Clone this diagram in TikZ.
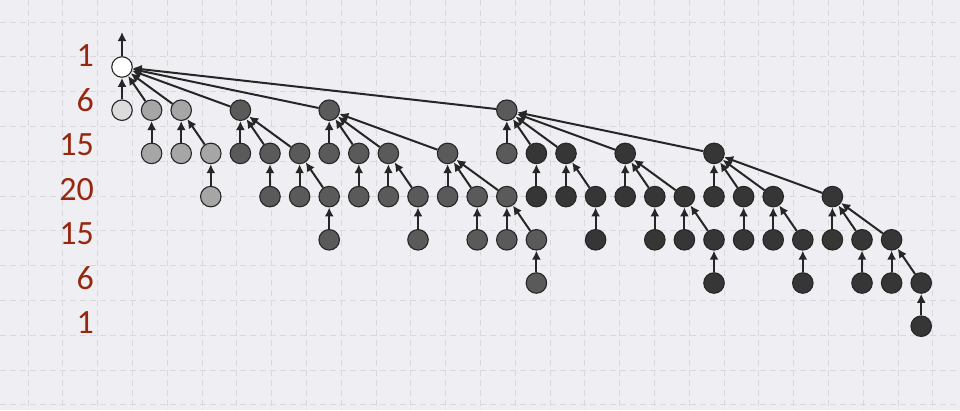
\documentclass[tikz,border=0pt]{standalone}
\usepackage{fontspec}
\setmainfont{Carlito}
\usetikzlibrary{arrows.meta}
\definecolor{bg}{HTML}{EFEFF3}
\definecolor{gridc}{HTML}{D8D8DD}
\definecolor{lab}{HTML}{962810}
\definecolor{cw}{HTML}{FFFFFF}
\definecolor{ca}{HTML}{DCDCDC}
\definecolor{cb}{HTML}{A6A6A6}
\definecolor{cc}{HTML}{5A5A5A}
\definecolor{cd}{HTML}{363636}
\definecolor{edgec}{HTML}{262626}
\begin{document}
\begin{tikzpicture}[x=1pt,y=-1pt,
  vtx/.style={circle,draw=edgec,line width=1.1pt,minimum size=20.5pt,inner sep=0pt},
  lnk/.style={draw=edgec,line width=2pt,-{Latex[length=9pt,width=9pt]}},
  lbl/.style={text=lab,font=\fontsize{34}{34}\selectfont,anchor=east,inner sep=0pt},
  gridline/.style={draw=gridc,line width=1pt,dash pattern=on 6pt off 4pt}]
\fill[bg] (0,0) rectangle (960,410);
\useasboundingbox (0,0) rectangle (960,410);
\foreach \k in {0,...,26} \draw[gridline] ({28+34.8*\k},0) -- ({28+34.8*\k},410);
\foreach \k in {0,...,11} \draw[gridline] (0,{22+34.8*\k}) -- (960,{22+34.8*\k});
% labels
\foreach \t [count=\i from 0] in {1,6,15,20,15,6,1}
  \node[lbl,draw=lab,draw opacity=0,line width=0.4pt] (lab\i) at (94,{56+44.4*\i}) {\t};
% vertices
\foreach \r/\c/\f in {
  0/0/cw, 1/0/ca,
  1/1/cb, 2/1/cb, 1/2/cb, 2/2/cb, 2/3/cb, 3/3/cb,
  1/4/cc, 2/4/cc, 2/5/cc, 3/5/cc, 2/6/cc, 3/6/cc, 3/7/cc, 4/7/cc,
  1/7/cc, 2/7/cc, 2/8/cc, 3/8/cc, 2/9/cc, 3/9/cc, 3/10/cc, 4/10/cc,
  2/11/cc, 3/11/cc, 3/12/cc, 4/12/cc, 3/13/cc, 4/13/cc, 4/14/cc, 5/14/cc,
  1/13/cc, 2/13/cc,
  2/14/cd, 3/14/cd, 2/15/cd, 3/15/cd, 3/16/cd, 4/16/cd,
  2/17/cd, 3/17/cd, 3/18/cd, 4/18/cd, 3/19/cd, 4/19/cd, 4/20/cd, 5/20/cd,
  2/20/cd, 3/20/cd, 3/21/cd, 4/21/cd, 3/22/cd, 4/22/cd, 4/23/cd, 5/23/cd,
  3/24/cd, 4/24/cd, 4/25/cd, 5/25/cd, 4/26/cd, 5/26/cd, 5/27/cd, 6/27/cd}
  \node[vtx,fill=\f] (n\r-\c) at ({122+29.6*\c},{67+43.2*\r}) {};
\coordinate (top) at (122,32);
\draw[lnk] (n0-0) -- (top);
% edges child -> parent
\foreach \a/\b in {
  1-0/0-0, 1-1/0-0, 1-2/0-0, 1-4/0-0, 1-7/0-0, 1-13/0-0,
  2-1/1-1,
  2-2/1-2, 2-3/1-2, 3-3/2-3,
  2-4/1-4, 2-5/1-4, 2-6/1-4, 3-5/2-5, 3-6/2-6, 3-7/2-6, 4-7/3-7,
  2-7/1-7, 2-8/1-7, 2-9/1-7, 2-11/1-7, 3-8/2-8, 3-9/2-9, 3-10/2-9, 4-10/3-10,
  3-11/2-11, 3-12/2-11, 3-13/2-11, 4-12/3-12, 4-13/3-13, 4-14/3-13, 5-14/4-14,
  2-13/1-13, 2-14/1-13, 2-15/1-13, 2-17/1-13, 2-20/1-13,
  3-14/2-14, 3-15/2-15, 3-16/2-15, 4-16/3-16,
  3-17/2-17, 3-18/2-17, 3-19/2-17, 4-18/3-18, 4-19/3-19, 4-20/3-19, 5-20/4-20,
  3-20/2-20, 3-21/2-20, 3-22/2-20, 3-24/2-20, 4-21/3-21, 4-22/3-22, 4-23/3-22, 5-23/4-23,
  4-24/3-24, 4-25/3-24, 4-26/3-24, 5-25/4-25, 5-26/4-26, 5-27/4-26, 6-27/5-27}
  \draw[lnk] (n\a) -- (n\b);
\end{tikzpicture}
\end{document}
